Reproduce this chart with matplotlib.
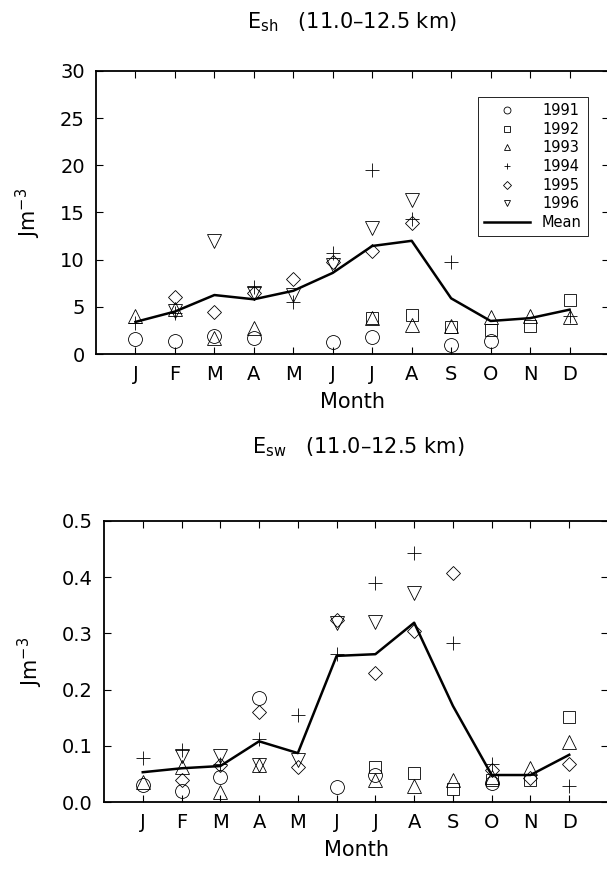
import numpy as np
import matplotlib
matplotlib.use("Agg")
import matplotlib.pyplot as plt

plt.rcParams['font.family'] = ['DejaVu Sans']
plt.rcParams['mathtext.default'] = 'regular'

nan = np.nan
months = np.arange(1, 13)
month_labels = ['J', 'F', 'M', 'A', 'M', 'J', 'J', 'A', 'S', 'O', 'N', 'D']
years = ['1991', '1992', '1993', '1994', '1995', '1996']
markers = {'1991': 'o', '1992': 's', '1993': '^', '1994': '+', '1995': 'D', '1996': 'v'}

# Esh (J m-3), 11.0-12.5 km
esh_1991 = [1.6, 1.4, 1.9, 1.7, nan, 1.3, 1.85, nan, 1.0, 1.4, nan, nan]
esh_1992 = [nan, nan, nan, nan, nan, nan, 3.8, 4.1, 2.9, 2.5, 3.0, 5.7]
esh_1993 = [4.0, 4.8, 1.7, 2.75, nan, nan, 3.8, 3.1, 3.0, 3.95, 4.05, 3.9]
esh_1994 = [3.3, 4.3, nan, 7.1, 5.55, 10.75, 19.5, 14.3, 9.7, nan, nan, 4.0]
esh_1995 = [nan, 6.0, 4.45, 6.5, 7.95, 9.7, 10.95, 13.9, nan, nan, nan, nan]
esh_1996 = [nan, 4.6, 12.0, 6.5, 6.25, 9.4, 13.4, 16.3, nan, nan, nan, nan]
esh_mean = [3.4, 4.5, 6.25, 5.8, 6.7, 8.6, 11.45, 12.0, 5.9, 3.5, 3.8, 4.7]

# Esw (J m-3), 11.0-12.5 km
esw_1991 = [0.030, 0.020, 0.044, 0.185, nan, 0.026, 0.048, nan, nan, 0.033, nan, nan]
esw_1992 = [nan, nan, nan, nan, nan, nan, 0.063, 0.051, 0.023, 0.039, 0.040, 0.152]
esw_1993 = [0.036, 0.063, 0.018, 0.066, nan, nan, 0.039, 0.028, 0.039, 0.045, 0.060, 0.107]
esw_1994 = [0.078, 0.092, 0.068, 0.112, 0.155, 0.263, 0.390, 0.443, 0.283, 0.068, nan, 0.028]
esw_1995 = [nan, 0.040, 0.065, 0.161, 0.063, 0.324, 0.229, 0.305, 0.408, 0.057, 0.042, 0.068]
esw_1996 = [nan, 0.081, 0.081, 0.066, 0.075, 0.319, 0.321, 0.371, nan, nan, nan, nan]
esw_mean = [0.053, 0.060, 0.064, 0.108, 0.087, 0.260, 0.263, 0.319, 0.171, 0.048, 0.048, 0.084]

esh = dict(zip(years, [esh_1991, esh_1992, esh_1993, esh_1994, esh_1995, esh_1996]))
esw = dict(zip(years, [esw_1991, esw_1992, esw_1993, esw_1994, esw_1995, esw_1996]))

W, H = 607, 873
fig = plt.figure(figsize=(W / 100, H / 100), dpi=100)
ax1 = fig.add_axes([96 / W, 1 - 354 / H, 513 / W, 283 / H])
ax2 = fig.add_axes([104 / W, 1 - 802 / H, 504 / W, 281 / H])


def draw(ax, data, mean, ylim, yticks, yfmt):
    for yr in years:
        m = markers[yr]
        ms = 10
        if m == 's':
            ms = 8
        if m == 'D':
            ms = 7.5
        ax.plot(months, data[yr], linestyle='none', marker=m, markersize=ms,
                markerfacecolor='none', markeredgecolor='black',
                markeredgewidth=0.6, label=yr)
    ax.plot(months, mean, color='black', linewidth=1.8, label='Mean')
    ax.set_xlim(0, 13)
    ax.set_ylim(*ylim)
    ax.set_xticks(months)
    ax.set_xticklabels(month_labels)
    ax.set_yticks(yticks)
    ax.set_yticklabels([yfmt % v for v in yticks])
    ax.tick_params(direction='in', top=True, right=True, labelsize=14,
                   length=5, width=0.8, pad=8)
    for s in ax.spines.values():
        s.set_linewidth(1.3)
    ax.set_xlabel('Month', fontsize=15, labelpad=6)
    ax.set_ylabel('Jm$^{-3}$', fontsize=15, labelpad=12)


draw(ax1, esh, esh_mean, (0, 30), np.arange(0, 31, 5), '%d')
draw(ax2, esw, esw_mean, (0, 0.5), np.arange(0, 0.51, 0.1), '%.1f')

fig.text(352 / W, 1 - 22 / H, 'E$_{sh}$   (11.0\u201312.5 km)', fontsize=15,
         ha='center', va='center')
fig.text(358 / W, 1 - 447 / H, 'E$_{sw}$   (11.0\u201312.5 km)', fontsize=15,
         ha='center', va='center')

leg = ax1.legend(loc='upper right', bbox_to_anchor=(595 / W, 1 - 90 / H),
                 bbox_transform=fig.transFigure, fontsize=10.5, markerscale=0.5,
                 handlelength=3.2, labelspacing=0.25, borderpad=0.4,
                 handletextpad=0.8, fancybox=False, framealpha=1,
                 edgecolor='black', numpoints=1)
leg.get_frame().set_linewidth(0.6)

fig.savefig('out.png', dpi=100)
